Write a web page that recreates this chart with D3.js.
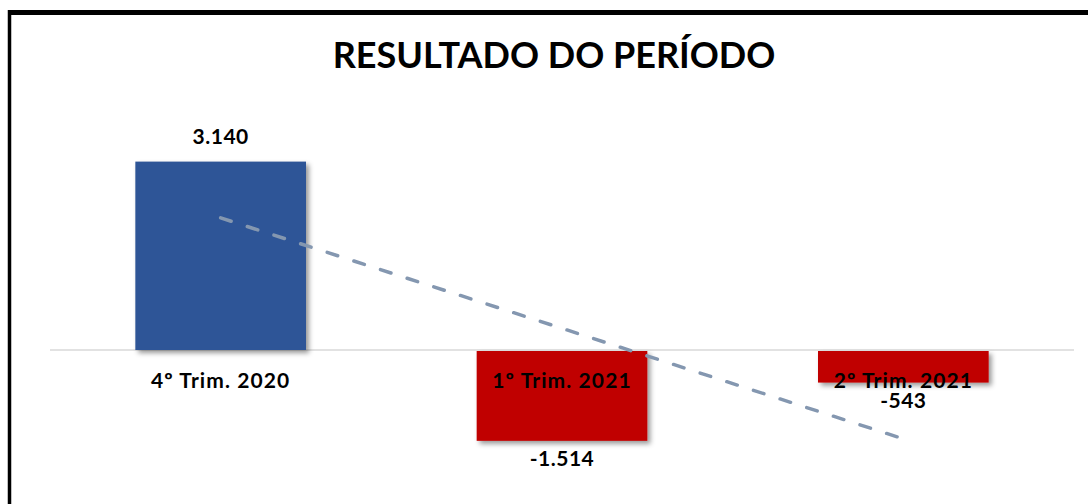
<!DOCTYPE html>
<html>
<head>
<meta charset="utf-8">
<script src="https://cdn.jsdelivr.net/npm/d3@7"></script>
<style>
  body { margin: 0; background: #fff; }
  svg { display: block; }
  text { font-family: Lato, "Open Sans", sans-serif; font-weight: bold; fill: #000; }
</style>
</head>
<body>
<div id="chart"></div>
<script>
// chart data
var categories = ["4º Trim. 2020", "1º Trim. 2021", "2º Trim. 2021"];
var values = [3140, -1514, -543];
var valueLabels = ["3.140", "-1.514", "-543"];
var title = "RESULTADO DO PERÍODO";

var svgWidth = 1088;
var svgHeight = 504;

var svg = d3.select("#chart")
  .append("svg")
  .attr("width", svgWidth)
  .attr("height", svgHeight);

// drop shadow for the bars
var defs = svg.append("defs");
var shadow = defs.append("filter")
  .attr("id", "shadow")
  .attr("x", "-10%").attr("y", "-10%")
  .attr("width", "130%").attr("height", "140%");
shadow.append("feDropShadow")
  .attr("dx", 3).attr("dy", 3)
  .attr("stdDeviation", 2.5)
  .attr("flood-color", "#000")
  .attr("flood-opacity", 0.4);

// outer frame (only top and left edges visible)
svg.append("line")
  .attr("x1", 8).attr("x2", svgWidth)
  .attr("y1", 12.5).attr("y2", 12.5)
  .attr("stroke", "#000").attr("stroke-width", 5);
svg.append("line")
  .attr("x1", 9.5).attr("x2", 9.5)
  .attr("y1", 10).attr("y2", svgHeight)
  .attr("stroke", "#000").attr("stroke-width", 3.5);

// title
svg.append("text")
  .attr("x", 554)
  .attr("y", 68)
  .attr("text-anchor", "middle")
  .style("font-size", "36px")
  .text(title);

var x = d3.scaleBand()
  .domain(categories)
  .range([50, 1074])
  .paddingInner(0.5)
  .paddingOuter(0.25);

var y = d3.scaleLinear()
  .domain([-2500, 4000])
  .range([500, 110]);

var data = categories.map(function(c, i) {
  return { cat: c, value: values[i], label: valueLabels[i], idx: i + 1 };
});

// zero line
svg.append("line")
  .attr("x1", 50).attr("x2", 1074)
  .attr("y1", y(0)).attr("y2", y(0))
  .attr("stroke", "#d9d9d9").attr("stroke-width", 1.5);

// bars
svg.selectAll("rect.bar")
  .data(data)
  .enter()
  .append("rect")
  .attr("class", "bar")
  .attr("x", d => x(d.cat))
  .attr("width", x.bandwidth())
  .attr("y", d => d.value >= 0 ? y(d.value) : y(0) + 1)
  .attr("height", d => Math.abs(y(d.value) - y(0)) - (d.value < 0 ? 1 : 0))
  .attr("fill", d => d.value >= 0 ? "#2f5597" : "#c00000")
  .attr("filter", "url(#shadow)");

// linear trendline (least squares on the bar values)
var n = data.length;
var mx = d3.mean(data, d => d.idx);
var my = d3.mean(data, d => d.value);
var slope = d3.sum(data, d => (d.idx - mx) * (d.value - my)) / d3.sum(data, d => (d.idx - mx) * (d.idx - mx));
var icpt = my - slope * mx;
var first = data[0], last = data[n - 1];

svg.append("line")
  .attr("x1", x(first.cat) + x.bandwidth() / 2)
  .attr("y1", y(icpt + slope * first.idx))
  .attr("x2", x(last.cat) + x.bandwidth() / 2)
  .attr("y2", y(icpt + slope * last.idx))
  .attr("stroke", "#8497b0")
  .attr("stroke-width", 3.5)
  .attr("stroke-linecap", "round")
  .attr("stroke-dasharray", "11,17");

// category labels next to the axis
svg.selectAll("text.cat")
  .data(data)
  .enter()
  .append("text")
  .attr("class", "cat")
  .attr("x", d => x(d.cat) + x.bandwidth() / 2)
  .attr("y", y(0) + 38)
  .attr("text-anchor", "middle")
  .style("font-size", "21px")
  .style("letter-spacing", "1.1px")
  .text(d => d.cat);

// value labels outside bar ends
svg.selectAll("text.val")
  .data(data)
  .enter()
  .append("text")
  .attr("class", "val")
  .attr("x", d => x(d.cat) + x.bandwidth() / 2)
  .attr("y", d => d.value >= 0 ? y(d.value) - 18 : y(d.value) + 25)
  .attr("text-anchor", "middle")
  .style("font-size", "21px")
  .style("letter-spacing", "0.5px")
  .text(d => d.label);
</script>
</body>
</html>
